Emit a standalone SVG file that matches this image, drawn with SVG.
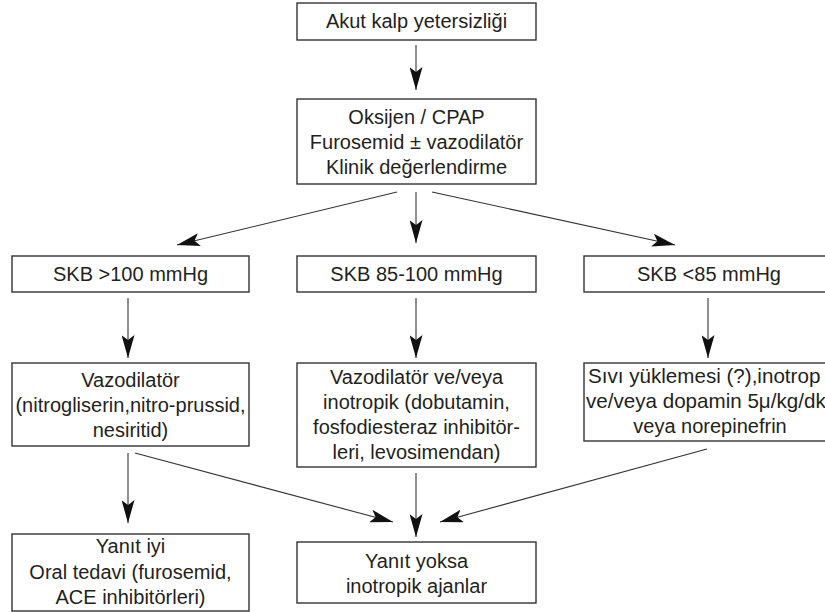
<svg xmlns="http://www.w3.org/2000/svg" width="825" height="612" viewBox="0 0 825 612">
<defs>
<style>
.box{fill:#fff;stroke:#333;stroke-width:1.4}
.t{font-family:"Liberation Sans",Arial,Helvetica,sans-serif;font-size:20px;fill:#231f20;text-anchor:middle}
.ts{font-family:"Liberation Sans",Arial,Helvetica,sans-serif;font-size:20.6px;fill:#231f20;text-anchor:start}
.c{stroke:#333;stroke-width:1.1;fill:none;marker-end:url(#ah)}
</style>
<marker id="ah" viewBox="0 0 24 13" markerUnits="userSpaceOnUse" markerWidth="24" markerHeight="13" refX="23" refY="6.5" orient="auto">
<path d="M0,0 L23,6.5 L0,13 L5,6.5 Z" fill="#111"/>
</marker>
</defs>
<rect width="825" height="612" fill="#fff"/>
<g id="connectors">
<line class="c" x1="416" y1="45" x2="416" y2="90"/>
<line class="c" x1="397" y1="192" x2="177" y2="245"/>
<line class="c" x1="416" y1="192" x2="416" y2="243"/>
<line class="c" x1="432" y1="192" x2="675" y2="245"/>
<line class="c" x1="128" y1="298" x2="128" y2="358"/>
<line class="c" x1="416" y1="298" x2="416" y2="358"/>
<line class="c" x1="708" y1="298" x2="708" y2="358"/>
<line class="c" x1="128" y1="453" x2="128" y2="523"/>
<line class="c" x1="135" y1="453" x2="393" y2="522"/>
<line class="c" x1="416" y1="473" x2="416" y2="537"/>
<line class="c" x1="707" y1="449" x2="440" y2="522"/>
</g>
<g id="n1"><rect class="box" x="297" y="3" width="239" height="37"/><text class="t" x="416.5" y="28">Akut kalp yetersizliği</text></g>
<g id="n2"><rect class="box" x="297" y="99" width="239" height="85"/>
<text class="t" x="416.5" y="124">Oksijen / CPAP</text>
<text class="t" x="416.5" y="149">Furosemid ± vazodilatör</text>
<text class="t" x="416.5" y="174">Klinik değerlendirme</text></g>
<g id="n3"><rect class="box" x="12" y="256" width="237" height="36"/><text class="t" x="130.5" y="281">SKB &gt;100 mmHg</text></g>
<g id="n4"><rect class="box" x="297" y="256" width="239" height="36"/><text class="t" x="416.5" y="281">SKB 85-100 mmHg</text></g>
<g id="n5"><rect class="box" x="584" y="256" width="260" height="36"/><text class="t" x="709" y="281">SKB &lt;85 mmHg</text></g>
<g id="n6"><rect class="box" x="12" y="363" width="237" height="83"/>
<text class="t" x="130.5" y="387">Vazodilatör</text>
<text class="t" x="130.5" y="412">(nitrogliserin,nitro-prussid,</text>
<text class="t" x="130.5" y="437">nesiritid)</text></g>
<g id="n7"><rect class="box" x="297" y="363" width="239" height="104"/>
<text class="t" x="416.5" y="384">Vazodilatör ve/veya</text>
<text class="t" x="416.5" y="409">inotropik (dobutamin,</text>
<text class="t" x="416.5" y="434">fosfodiesteraz inhibitör-</text>
<text class="t" x="416.5" y="459">leri, levosimendan)</text></g>
<g id="n8"><rect class="box" x="584" y="363" width="260" height="78"/>
<text class="ts" x="588" y="383">Sıvı yüklemesi (?),inotrop</text>
<text class="ts" x="586" y="408">ve/veya dopamin 5μ/kg/dk</text>
<text class="t" x="710" y="433">veya norepinefrin</text></g>
<g id="n9"><rect class="box" x="12" y="534" width="237" height="77"/>
<text class="t" x="130.5" y="553">Yanıt iyi</text>
<text class="t" x="130.5" y="579">Oral tedavi (furosemid,</text>
<text class="t" x="130.5" y="604">ACE inhibitörleri)</text></g>
<g id="n10"><rect class="box" x="297" y="542" width="239" height="61"/>
<text class="t" x="416.5" y="568">Yanıt yoksa</text>
<text class="t" x="416.5" y="593">inotropik ajanlar</text></g>
</svg>
